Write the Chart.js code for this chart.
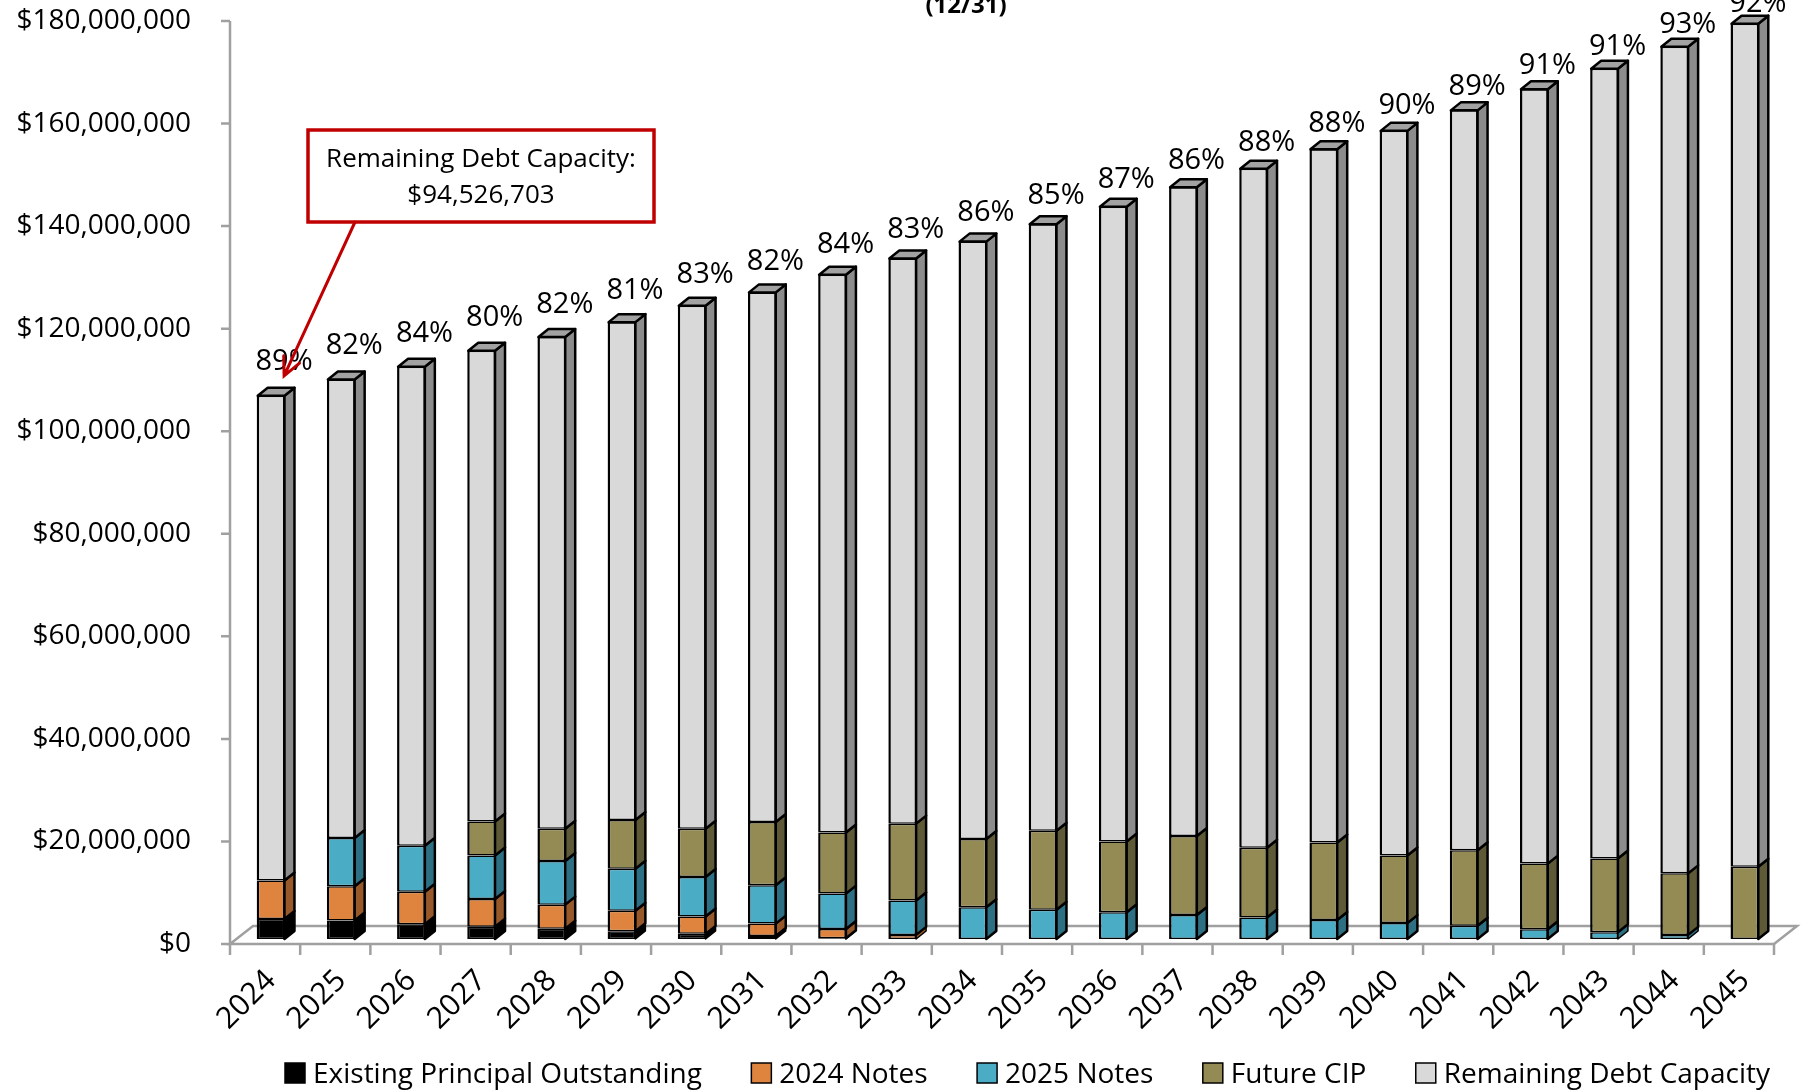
<!DOCTYPE html>
<html>
<head>
<meta charset="utf-8">
<script src="https://cdn.jsdelivr.net/npm/chart.js@4.4.1/dist/chart.umd.min.js"></script>
<style>
  html, body { margin: 0; padding: 0; background: #fff; }
  canvas { display: block; }
</style>
</head>
<body>
<canvas id="debtChart" width="1805" height="1091"></canvas>
<script>
// Fiscal years (12/31)
const years = ["2024", "2025", "2026", "2027", "2028", "2029", "2030", "2031", "2032", "2033", "2034",
               "2035", "2036", "2037", "2038", "2039", "2040", "2041", "2042", "2043", "2044", "2045"];

// Stacked series, dollars
const existingPrincipal = [3900000, 3600000, 2900000, 2400000, 2000000, 1500000, 1000000, 600000, 150000, 0, 0,
                           0, 0, 0, 0, 0, 0, 0, 0, 0, 0, 0];
const notes2024 = [7500000, 6700000, 6300000, 5400000, 4700000, 4000000, 3400000, 2400000, 1800000, 800000, 0,
                   0, 0, 0, 0, 0, 0, 0, 0, 0, 0, 0];
const notes2025 = [0, 9400000, 9000000, 8500000, 8500000, 8200000, 7700000, 7500000, 6900000, 6700000, 6200000,
                   5700000, 5200000, 4700000, 4200000, 3700000, 3100000, 2600000, 1900000, 1300000, 800000, 0];
const futureCIP = [0, 0, 0, 6600000, 6300000, 9500000, 9400000, 12300000, 11900000, 15000000, 13300000,
                   15400000, 13800000, 15400000, 13600000, 15100000, 13200000, 14700000, 12800000, 14400000, 12000000, 14100000];
const remainingCapacity = [94526703, 89400000, 93400000, 91800000, 95900000, 97100000, 102000000, 103300000, 108800000, 110200000, 116500000,
                           118300000, 123800000, 126500000, 132400000, 135200000, 141300000, 144300000, 151000000, 154000000, 161200000, 164400000];

// Share of capacity still available, labels above each bar
const pctLabels = ["89%", "82%", "84%", "80%", "82%", "81%", "83%", "82%", "84%", "83%", "86%",
                   "85%", "87%", "86%", "88%", "88%", "90%", "89%", "91%", "91%", "93%", "92%"];

// Value axis
const yMax = 180000000;
const yStep = 20000000;

const FONT = '"Open Sans", "Noto Sans", sans-serif';
const DX = 10, DY = -8;          // bar depth
const FLOOR_DX = 23, FLOOR_DY = -18;
const AXIS_SHIFT_X = -6, AXIS_SHIFT_Y = 5;

const series = [
    { label: "Existing Principal Outstanding", data: existingPrincipal, front: "#000000", side: "#000000" },
    { label: "2024 Notes", data: notes2024, front: "#DF843E", side: "#98592A" },
    { label: "2025 Notes", data: notes2025, front: "#4BACC6", side: "#2E7083" },
    { label: "Future CIP", data: futureCIP, front: "#948A54", side: "#5E5936" },
    { label: "Remaining Debt Capacity", data: remainingCapacity, front: "#D9D9D9", side: "#8C8C8C" },
];

const money = (v) => "$" + Number(v).toLocaleString("en-US");

// floor, value axis and tick marks (drawn behind the bars)
const floorPlugin = {
    id: "floor",
    beforeDatasetsDraw(chart) {
        const { ctx, chartArea, scales } = chart;
        const y = scales.y;
        const left = chartArea.left + AXIS_SHIFT_X;
        const right = chartArea.right + AXIS_SHIFT_X;
        const base = y.getPixelForValue(0) + AXIS_SHIFT_Y;
        const top = y.getPixelForValue(yMax) + AXIS_SHIFT_Y;
        ctx.save();
        ctx.strokeStyle = "#A0A0A0";
        ctx.lineWidth = 2.5;
        ctx.beginPath();
        ctx.moveTo(left, base);
        ctx.lineTo(right, base);
        ctx.lineTo(right + FLOOR_DX, base + FLOOR_DY);
        ctx.lineTo(left + FLOOR_DX, base + FLOOR_DY);
        ctx.closePath();
        ctx.fillStyle = "#ffffff";
        ctx.fill();
        ctx.stroke();

        ctx.beginPath();
        ctx.moveTo(left, top);
        ctx.lineTo(left, base);
        y.ticks.forEach((t) => {
            const py = y.getPixelForValue(t.value) + AXIS_SHIFT_Y;
            ctx.moveTo(left - 9, py);
            ctx.lineTo(left, py);
        });
        const step = (chartArea.right - chartArea.left) / years.length;
        for (let i = 0; i <= years.length; i++) {
            const px = left + i * step;
            ctx.moveTo(px, base);
            ctx.lineTo(px, base + 11);
        }
        ctx.stroke();
        ctx.restore();
    },
};

// side and top faces of the bars
const depthPlugin = {
    id: "depth",
    afterDatasetsDraw(chart) {
        const ctx = chart.ctx;
        const last = chart.data.datasets.length - 1;
        ctx.save();
        ctx.strokeStyle = "#000000";
        ctx.lineJoin = "round";
        chart.data.datasets.forEach((ds, di) => {
            chart.getDatasetMeta(di).data.forEach((bar, i) => {
                if (ds.data[i] == null) return;
                const { x, y, base, width } = bar.getProps(["x", "y", "base", "width"], true);
                const l = x - width / 2 + 1;
                const r = x + width / 2 - 1;
                // thin slices get a thinner outline so their colour still shows
                ctx.lineWidth = base - y < 8 ? 1.5 : 2.5;
                ctx.fillStyle = series[di].side;
                ctx.beginPath();
                ctx.moveTo(r, y);
                ctx.lineTo(r + DX, y + DY);
                ctx.lineTo(r + DX, base + DY);
                ctx.lineTo(r, base);
                ctx.closePath();
                ctx.fill();
                ctx.stroke();
                if (di === last) {
                    ctx.lineWidth = 2.5;
                    ctx.fillStyle = "#A2A2A2";
                    ctx.beginPath();
                    ctx.moveTo(l, y);
                    ctx.lineTo(l + DX, y + DY);
                    ctx.lineTo(r + DX, y + DY);
                    ctx.lineTo(r, y);
                    ctx.closePath();
                    ctx.fill();
                    ctx.stroke();
                }
            });
        });
        ctx.restore();
    },
};

// percentage labels, callout, title and legend
const textPlugin = {
    id: "texts",
    afterDraw(chart) {
        const ctx = chart.ctx;
        const last = chart.data.datasets.length - 1;
        const bars = chart.getDatasetMeta(last).data;
        ctx.save();
        ctx.fillStyle = "#000000";
        ctx.textAlign = "center";
        ctx.textBaseline = "alphabetic";
        ctx.font = "29px " + FONT;
        bars.forEach((bar, i) => {
            // labels sit a little closer to the taller bars
            const gap = 12.5 + (bar.y - 24) * 13.5 / 372;
            ctx.fillText(pctLabels[i], bar.x + 13, Math.max(bar.y - gap, 12));
        });

        // title, mostly cut off at the top
        ctx.font = "bold 24px " + FONT;
        ctx.fillText("(12/31)", 966, 13);

        // callout for the first year
        const bx = 308, by = 130, bw = 346, bh = 92;
        ctx.fillStyle = "#ffffff";
        ctx.fillRect(bx, by, bw, bh);
        ctx.strokeStyle = "#C00000";
        ctx.lineWidth = 3.5;
        ctx.strokeRect(bx, by, bw, bh);
        ctx.fillStyle = "#000000";
        ctx.font = "26px " + FONT;
        ctx.fillText("Remaining Debt Capacity:", bx + bw / 2, 167);
        ctx.fillText(money(remainingCapacity[0]), bx + bw / 2, 203);

        const tipX = bars[0].x + 13, tipY = bars[0].y - 20;
        const sx = 355, sy = by + bh;
        ctx.lineWidth = 3;
        ctx.lineCap = "round";
        ctx.beginPath();
        ctx.moveTo(sx, sy);
        ctx.lineTo(tipX, tipY);
        const ang = Math.atan2(sy - tipY, sx - tipX);
        const arm = 20, spread = 0.45;
        ctx.moveTo(tipX + arm * Math.cos(ang - spread), tipY + arm * Math.sin(ang - spread));
        ctx.lineTo(tipX, tipY);
        ctx.lineTo(tipX + arm * Math.cos(ang + spread), tipY + arm * Math.sin(ang + spread));
        ctx.stroke();

        // legend row
        ctx.font = "28px " + FONT;
        ctx.textAlign = "left";
        const startX = 285, endX = 1770, box = 20, textGap = 8;
        const widths = series.map((s) => ctx.measureText(s.label).width);
        const used = widths.reduce((a, w) => a + box + textGap + w, 0);
        const gap = (endX - startX - used) / (series.length - 1);
        let lx = startX;
        series.forEach((s, i) => {
            ctx.fillStyle = s.front;
            ctx.fillRect(lx, 1063, box, box);
            ctx.strokeStyle = "#000000";
            ctx.lineWidth = 1.5;
            ctx.strokeRect(lx, 1063, box, box);
            ctx.fillStyle = "#000000";
            ctx.fillText(s.label, lx + box + textGap, 1083);
            lx += box + textGap + widths[i] + gap;
        });
        ctx.restore();
    },
};

new Chart(document.getElementById("debtChart"), {
    type: "bar",
    data: {
        labels: years,
        datasets: series.map((s) => ({
            label: s.label,
            data: s.data.map((v) => (v ? v : null)),
            backgroundColor: s.front,
            borderColor: "#000000",
            borderWidth: { top: 1.5, bottom: 1.5, left: 2.5, right: 2.5 },
            borderSkipped: false,
            categoryPercentage: 1,
            barPercentage: 0.41,
        })),
    },
    plugins: [floorPlugin, depthPlugin, textPlugin],
    options: {
        responsive: false,
        animation: false,
        layout: { padding: { top: 16, right: 25, left: 0, bottom: 0 } },
        plugins: {
            legend: { display: false },
            tooltip: { enabled: false },
            title: { display: false },
        },
        scales: {
            x: {
                stacked: true,
                grid: { display: false, drawTicks: false },
                border: { display: false },
                ticks: {
                    autoSkip: false,
                    minRotation: 45,
                    maxRotation: 45,
                    padding: 24,
                    color: "#000000",
                    font: { family: FONT, size: 30 },
                },
                afterFit: (scale) => {
                    scale.height = 152;
                    scale.paddingLeft = 0;
                    scale.paddingRight = 0;
                },
            },
            y: {
                stacked: true,
                min: 0,
                max: yMax,
                grid: { display: false, drawTicks: false },
                border: { display: false },
                ticks: {
                    stepSize: yStep,
                    padding: 45,
                    labelOffset: AXIS_SHIFT_Y,
                    color: "#000000",
                    font: { family: FONT, size: 28 },
                    callback: (v) => money(v),
                },
                afterFit: (scale) => {
                    scale.width = 236;
                    scale.paddingTop = 0;
                    scale.paddingBottom = 0;
                },
            },
        },
    },
});
</script>
</body>
</html>
